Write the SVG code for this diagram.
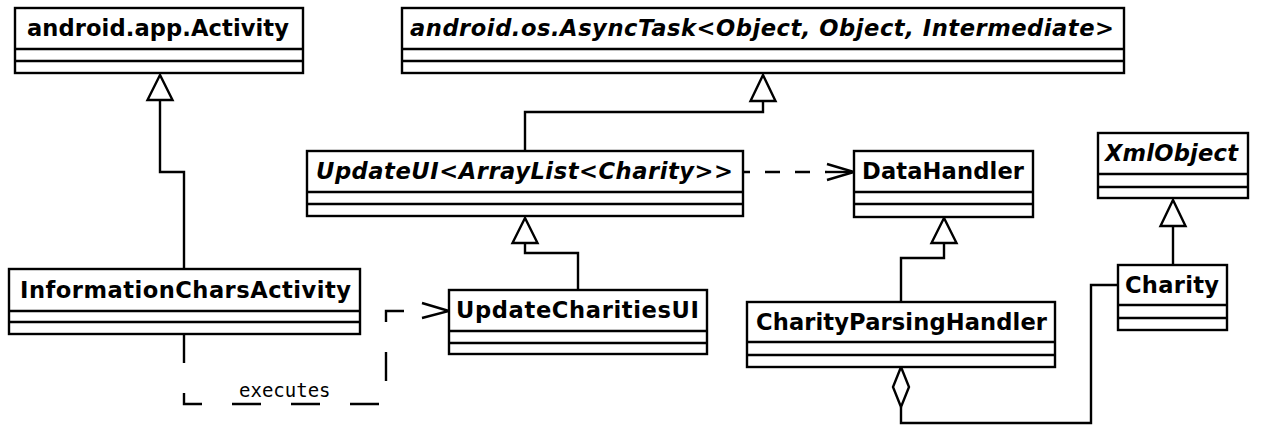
<svg xmlns="http://www.w3.org/2000/svg" width="1268" height="425" viewBox="0 0 1268 425">
  <style>
    .box { fill: #ffffff; stroke: #000000; stroke-width: 2.4; }
    .sep { stroke: #000000; stroke-width: 2.4; }
    .name { font-family: "DejaVu Sans", "Liberation Sans", sans-serif; font-weight: bold; font-size: 22.6px; fill: #000000; }
    .abstract { font-style: italic; }
    .edge { fill: none; stroke: #000000; stroke-width: 2.4; }
    .tri { fill: #ffffff; stroke: #000000; stroke-width: 2.4; stroke-linejoin: miter; }
    .dep { stroke-dasharray: 15 15; }
    .exec { stroke-dasharray: 29 30; }
    .label { font-family: "DejaVu Sans Mono", "Liberation Mono", monospace; font-size: 19px; fill: #000000; }
  </style>

  <!-- connectors -->
  <g id="connectors">
    <!-- InformationCharsActivity extends android.app.Activity -->
    <polyline class="edge" points="184,269 184,172 160,172 160,100"/>
    <polygon class="tri" points="160,75 147.5,100 172.5,100"/>

    <!-- UpdateUI extends AsyncTask -->
    <polyline class="edge" points="525,151 525,112 763,112 763,101"/>
    <polygon class="tri" points="763,75 750.5,101 775.5,101"/>

    <!-- UpdateCharitiesUI extends UpdateUI -->
    <polyline class="edge" points="578,290 578,253 525,253 525,243"/>
    <polygon class="tri" points="525,218 512.5,243 537.5,243"/>

    <!-- CharityParsingHandler extends DataHandler -->
    <polyline class="edge" points="901,302 901,258 944,258 944,243"/>
    <polygon class="tri" points="944,218 931.5,243 956.5,243"/>

    <!-- Charity extends XmlObject -->
    <polyline class="edge" points="1173,265 1173,226"/>
    <polygon class="tri" points="1173,200 1160.5,226 1185.5,226"/>

    <!-- UpdateUI uses DataHandler -->
    <line class="edge dep" x1="735" y1="172" x2="827" y2="172"/>
    <line class="edge" x1="827" y1="172" x2="852" y2="172"/>
    <polyline class="edge" points="827,164 854,172 827,180"/>

    <!-- InformationCharsActivity executes UpdateCharitiesUI -->
    <path class="edge exec" d="M184,334 V404 H386 V311 H424"/>
    <polyline class="edge" points="422,303 449,311 422,318"/>
    <text class="label" x="239" y="397">executes</text>

    <!-- CharityParsingHandler aggregates Charity -->
    <polyline class="edge" points="901,407 901,423 1091,423 1091,285 1118,285"/>
    <polygon class="tri" points="901,367 909,387 901,407 893,387"/>
  </g>

  <g id="android-app-Activity">
    <rect class="box" x="15" y="8" width="288" height="65"/>
    <line class="sep" x1="15" y1="49" x2="303" y2="49"/>
    <line class="sep" x1="15" y1="61" x2="303" y2="61"/>
    <text class="name" x="27" y="36" textLength="262">android.app.Activity</text>
  </g>

  <g id="android-os-AsyncTask">
    <rect class="box" x="402" y="8" width="722" height="65"/>
    <line class="sep" x1="402" y1="49" x2="1124" y2="49"/>
    <line class="sep" x1="402" y1="61" x2="1124" y2="61"/>
    <text class="name abstract" x="410" y="36" textLength="704">android.os.AsyncTask&lt;Object, Object, Intermediate&gt;</text>
  </g>

  <g id="UpdateUI">
    <rect class="box" x="307" y="151" width="436" height="65"/>
    <line class="sep" x1="307" y1="192" x2="743" y2="192"/>
    <line class="sep" x1="307" y1="204" x2="743" y2="204"/>
    <text class="name abstract" x="316" y="179" textLength="417">UpdateUI&lt;ArrayList&lt;Charity&gt;&gt;</text>
  </g>

  <g id="DataHandler">
    <rect class="box" x="854" y="151" width="179" height="66"/>
    <line class="sep" x1="854" y1="192" x2="1033" y2="192"/>
    <line class="sep" x1="854" y1="204" x2="1033" y2="204"/>
    <text class="name" x="862" y="179" textLength="162">DataHandler</text>
  </g>

  <g id="XmlObject">
    <rect class="box" x="1098" y="133" width="150" height="65"/>
    <line class="sep" x1="1098" y1="174" x2="1248" y2="174"/>
    <line class="sep" x1="1098" y1="187" x2="1248" y2="187"/>
    <text class="name abstract" x="1105" y="161" textLength="133">XmlObject</text>
  </g>

  <g id="InformationCharsActivity">
    <rect class="box" x="9" y="269" width="351" height="65"/>
    <line class="sep" x1="9" y1="311" x2="360" y2="311"/>
    <line class="sep" x1="9" y1="322" x2="360" y2="322"/>
    <text class="name" x="20" y="298" textLength="331">InformationCharsActivity</text>
  </g>

  <g id="UpdateCharitiesUI">
    <rect class="box" x="449" y="290" width="258" height="64"/>
    <line class="sep" x1="449" y1="331" x2="707" y2="331"/>
    <line class="sep" x1="449" y1="343" x2="707" y2="343"/>
    <text class="name" x="456" y="318" textLength="243">UpdateCharitiesUI</text>
  </g>

  <g id="CharityParsingHandler">
    <rect class="box" x="747" y="302" width="308" height="65"/>
    <line class="sep" x1="747" y1="342" x2="1055" y2="342"/>
    <line class="sep" x1="747" y1="355" x2="1055" y2="355"/>
    <text class="name" x="756" y="330" textLength="291">CharityParsingHandler</text>
  </g>

  <g id="Charity">
    <rect class="box" x="1118" y="265" width="109" height="65"/>
    <line class="sep" x1="1118" y1="305" x2="1227" y2="305"/>
    <line class="sep" x1="1118" y1="318" x2="1227" y2="318"/>
    <text class="name" x="1125" y="293" textLength="94">Charity</text>
  </g>
</svg>
